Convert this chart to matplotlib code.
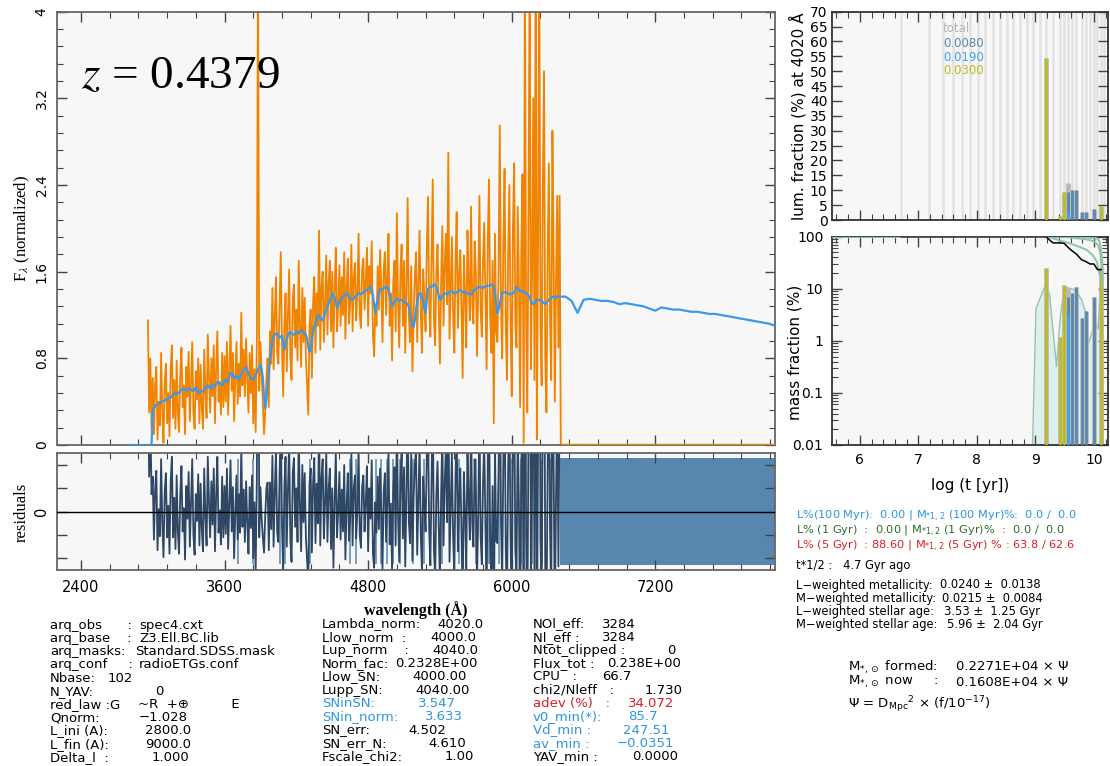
import numpy as np
import matplotlib.pyplot as plt
from matplotlib.ticker import MultipleLocator, FixedLocator, FixedFormatter, FuncFormatter, LogLocator, NullFormatter

W, H = 1110, 766

# ---------------------------------------------------------------
# spectral fit: synthetic (model) and observed spectrum, 10 A steps
# ---------------------------------------------------------------
lam_step = 10
model_lam0 = 2800
model_flux = [
    0, 0, 0, 0, 0, 0, 0, 0, 0, 0, 0, 0, 0, 0, 0, 0, 0, 0, 0, 0,                            # 2800
    0.32, 0.34, 0.36, 0.37, 0.38, 0.38, 0.39, 0.40, 0.40, 0.41,
    0.41, 0.42, 0.42, 0.43, 0.44, 0.44, 0.45, 0.47, 0.48, 0.47,                            # 3000
    0.47, 0.48, 0.48, 0.50, 0.51, 0.52, 0.52, 0.51, 0.50, 0.51,
    0.52, 0.52, 0.51, 0.50, 0.50, 0.52, 0.53, 0.50, 0.48, 0.49,                            # 3200
    0.50, 0.50, 0.49, 0.51, 0.53, 0.54, 0.55, 0.54, 0.52, 0.54,
    0.56, 0.55, 0.54, 0.56, 0.58, 0.58, 0.57, 0.56, 0.55, 0.57,                            # 3400
    0.60, 0.59, 0.58, 0.60, 0.63, 0.66, 0.67, 0.64, 0.62, 0.63,
    0.64, 0.62, 0.60, 0.63, 0.66, 0.68, 0.69, 0.71, 0.72, 0.69,                            # 3600
    0.66, 0.64, 0.62, 0.61, 0.60, 0.62, 0.64, 0.67, 0.70, 0.72,
    0.74, 0.70, 0.62, 0.45, 0.34, 0.42, 0.55, 0.68, 0.80, 0.90,                            # 3800
    0.97, 1.00, 1.02, 1.03, 1.03, 1.01, 0.99, 1.00, 1.01, 0.95,
    0.88, 0.93, 0.98, 1.01, 1.04, 1.04, 1.03, 1.02, 1.02, 1.03,                            # 4000
    1.05, 1.04, 1.03, 1.05, 1.06, 1.05, 1.04, 1.03, 1.02, 0.97,
    0.90, 0.86, 0.88, 0.97, 1.05, 1.09, 1.12, 1.16, 1.20, 1.19,                            # 4200
    1.17, 1.16, 1.15, 1.18, 1.22, 1.25, 1.28, 1.31, 1.33, 1.37,
    1.40, 1.38, 1.36, 1.31, 1.27, 1.29, 1.32, 1.34, 1.36, 1.37,                            # 4400
    1.38, 1.39, 1.40, 1.39, 1.37, 1.35, 1.34, 1.34, 1.35, 1.37,
    1.38, 1.39, 1.40, 1.40, 1.39, 1.40, 1.41, 1.42, 1.43, 1.43,                            # 4600
    1.44, 1.45, 1.46, 1.44, 1.38, 1.30, 1.22, 1.28, 1.35, 1.40,
    1.43, 1.44, 1.44, 1.45, 1.45, 1.46, 1.46, 1.43, 1.38, 1.33,                            # 4800
    1.28, 1.30, 1.32, 1.34, 1.35, 1.34, 1.33, 1.34, 1.34, 1.33,
    1.32, 1.32, 1.31, 1.30, 1.28, 1.22, 1.15, 1.10, 1.09, 1.15,                            # 5000
    1.25, 1.32, 1.38, 1.40, 1.40, 1.36, 1.32, 1.26, 1.22, 1.34,
    1.44, 1.45, 1.46, 1.46, 1.47, 1.48, 1.48, 1.46, 1.42, 1.38,                            # 5200
    1.34, 1.35, 1.37, 1.39, 1.40, 1.40, 1.39, 1.40, 1.41, 1.42,
    1.42, 1.41, 1.40, 1.40, 1.41, 1.42, 1.43, 1.43, 1.42, 1.41,                            # 5400
    1.41, 1.41, 1.40, 1.40, 1.40, 1.39, 1.39, 1.40, 1.42, 1.43,
    1.44, 1.45, 1.45, 1.46, 1.46, 1.45, 1.45, 1.46, 1.46, 1.47,                            # 5600
    1.47, 1.47, 1.48, 1.48, 1.48, 1.46, 1.40, 1.30, 1.22, 1.25,
    1.30, 1.36, 1.40, 1.41, 1.41, 1.41, 1.40, 1.40, 1.39, 1.39,                            # 5800
    1.40, 1.40, 1.41, 1.43, 1.46, 1.45, 1.43, 1.42, 1.42, 1.42,
    1.41, 1.41, 1.40, 1.39, 1.38, 1.36, 1.33, 1.31, 1.30, 1.31,                            # 6000
    1.33, 1.34, 1.34, 1.34, 1.33, 1.33, 1.32, 1.31, 1.30, 1.31,
    1.33, 1.34, 1.35, 1.36, 1.37, 1.37, 1.36, 1.36, 1.37, 1.37,                            # 6200
    1.37,                                                                                  # 6400
]
tail_lam0, tail_step = 6450, 50
model_tail_flux = [
    1.37, 1.33, 1.22, 1.34, 1.35, 1.34, 1.33, 1.33, 1.32, 1.30,
    1.31, 1.30, 1.29, 1.28, 1.26, 1.24, 1.27, 1.26, 1.25, 1.25,
    1.24, 1.23, 1.23, 1.22, 1.21, 1.21, 1.20, 1.19, 1.18, 1.17,
    1.16, 1.15, 1.14, 1.13, 1.12, 1.10,
]

obs_lam0 = 2960
obs_flux = [
    1.15, 0.30, 0.80, 0.15,                                                                # 2960
    0.62, 0.10, 0.55, 0.72, 0.05, 0.40, 0.18, 0.85, 0.30, 0.02,
    0.58, 0.75, 0.20, 0.48, 0.08, 0.70, 0.92, 0.25, 0.60, 0.15,                            # 3000
    0.78, 0.30, 0.12, 0.65, 0.90, 0.35, 0.55, 0.10, 0.72, 0.45,
    0.86, 0.22, 0.60, 0.95, 0.30, 0.15, 0.68, 0.42, 0.80, 0.20,                            # 3200
    0.74, 0.35, 0.15, 0.88, 0.50, 0.25, 1.02, 0.62, 0.30, 0.80,
    0.45, 0.92, 0.20, 0.70, 1.05, 0.40, 0.58, 0.28, 0.85, 0.35,                            # 3400
    0.82, 0.40, 0.95, 0.28, 0.70, 1.10, 0.50, 0.85, 0.22, 0.62,
    0.95, 0.38, 0.75, 0.45, 1.22, 0.55, 0.88, 0.45, 0.98, 0.60,                            # 3600
    0.30, 0.85, 0.48, 0.92, 0.20, 0.70, 0.12, 0.95, 4.60, 0.50,
    0.95, 0.65, 0.40, 0.10, 0.30, 0.62, 0.80, 0.35, 1.05, 0.75,                            # 3800
    1.45, 0.70, 1.20, 1.55, 0.85, 0.75, 1.30, 1.78, 0.90, 0.45,
    1.10, 1.40, 0.68, 1.20, 1.62, 0.80, 0.60, 1.35, 1.48, 0.90,                            # 4000
    1.25, 0.78, 1.70, 1.10, 0.72, 1.45, 0.95, 1.36, 0.80, 0.55,
    0.28, 1.10, 1.25, 0.62, 1.30, 1.55, 0.85, 1.40, 1.10, 1.98,                            # 4200
    0.88, 1.45, 1.60, 0.95, 1.30, 1.75, 1.02, 1.50, 1.70, 1.05,
    1.60, 0.90, 1.45, 1.82, 1.05, 1.30, 1.66, 1.10, 1.55, 1.20,                            # 4400
    1.78, 0.98, 1.45, 1.72, 1.12, 1.30, 1.85, 1.05, 1.55, 1.68,
    1.15, 1.40, 1.95, 1.20, 1.08, 1.62, 1.72, 1.25, 1.50, 1.82,                            # 4600
    1.10, 1.65, 1.40, 1.88, 1.02, 0.82, 1.30, 1.10, 1.65, 1.25,
    1.80, 1.45, 0.95, 1.62, 1.78, 1.20, 1.55, 1.95, 1.10, 1.40,                            # 4800
    0.78, 1.50, 1.70, 1.05, 2.14, 1.30, 0.90, 1.60, 1.85, 1.10,
    1.70, 0.85, 1.45, 2.28, 1.20, 0.95, 1.65, 0.68, 1.20, 1.55,                            # 5000
    1.78, 0.95, 1.50, 1.98, 1.20, 0.85, 1.62, 1.35, 1.05, 1.80,
    2.29, 1.30, 1.00, 1.72, 2.45, 1.15, 0.92, 1.60, 1.85, 1.25,                            # 5200
    0.75, 1.50, 2.02, 1.10, 1.65, 1.95, 1.30, 2.70, 0.98, 1.45,
    1.92, 1.20, 0.85, 1.70, 2.15, 1.08, 1.55, 1.80, 1.25, 0.62,                            # 5400
    1.75, 1.40, 0.90, 1.98, 1.50, 1.15, 2.20, 1.30, 1.12, 1.88,
    1.60, 0.82, 1.45, 2.30, 1.25, 1.00, 1.70, 2.05, 1.35, 0.70,                            # 5600
    1.90, 2.45, 1.20, 0.85, 1.70, 0.20, 1.95, 1.05, 0.95, 1.60,
    2.95, 1.30, 0.80, 1.85, 2.55, 1.10, 0.60, 1.75, 2.40, 1.20,                            # 5800
    0.45, 2.00, 2.60, 1.10, 0.90, 2.20, 1.50, 0.35, 1.80, 2.50,
    0.02, 4.50, 1.20, 0.30, 2.10, 4.50, 0.70, 1.60, 3.20, 0.60,                            # 6000
    4.50, 0.05, 1.90, 4.50, 1.10, 0.55, 2.40, 3.45, 0.80, 0.30,
    1.70, 2.60, 1.20, 0.60, 2.90, 1.80, 0.40, 1.50, 2.30, 0.90,                            # 6200
    2.30,                                                                                  # 6400
]
nodata_lam = [6410, 8200]          # no observed flux beyond the red end
clipped_lam = [6405, 8200]         # band excluded from the fit
clipped_res = 0.46
masked_lam = [3715, 3840, 4065, 4105, 4315, 4650, 4700, 4865, 4905, 4960,
              5010, 5065, 5175, 5270, 5420, 5560, 5700, 5810, 5890, 6000,
              6080, 6170, 6250, 6330]
redshift = 0.4379

# ---------------------------------------------------------------
# population vector
# ---------------------------------------------------------------
base_logt = [6.71, 7.18, 7.42, 7.59, 7.74, 7.88, 8.02, 8.14, 8.27, 8.39,
             8.51, 8.62, 8.74, 8.85, 8.96, 9.08, 9.18, 9.30, 9.42, 9.49,
             9.55, 9.62, 9.70, 9.79, 9.86, 9.93, 10.00, 10.06, 10.12, 10.18]
pop_logt = [9.18, 9.42, 9.49, 9.55, 9.55, 9.62, 9.70, 9.79, 9.86, 10.00, 10.12]
pop_Z = [0.03, 0.03, 0.03, 0.008, 0.019, 0.008, 0.008, 0.008, 0.008, 0.008, 0.03]
pop_light = [54.6, 1.4, 9.4, 9.4, 3.1, 10.0, 10.1, 2.6, 2.8, 3.8, 4.8]
pop_mass = [25.4, 1.2, 11.8, 7.0, 3.2, 8.2, 11.0, 2.7, 3.7, 7.0, 24.7]
Z_values = [0.008, 0.019, 0.03]
Z_labels = ["0.0080", "0.0190", "0.0300"]
Z_colors = ["#5a87ae", "#42a0ee", "#bdbd1e"]

# smoothed mass distribution
smooth_logt = [8.95, 9.01, 9.10, 9.16, 9.24, 9.36, 9.42, 9.48, 9.55, 9.62,
               9.70, 9.79, 9.86, 9.91, 10.02, 10.07, 10.12, 10.16]
smooth_mass = [0.01, 4.2, 7.5, 11.0, 8.1, 0.32, 2.5, 8.8, 10.5, 10.0,
               9.0, 6.1, 3.5, 0.9, 2.3, 1.7, 21.0, 0.01]

# cumulative mass curves for the individual metallicities
cumZ_logt = [
    [5.52, 9.18, 9.27, 9.42, 9.59, 9.75, 9.88, 9.98, 10.05, 10.10],
    [5.52, 9.50, 9.59, 9.80, 9.93, 10.02, 10.07, 10.11, 10.13, 10.15],
    [5.52, 9.70, 9.76, 9.95, 10.05, 10.09, 10.11, 10.13, 10.15],
]
cumZ_mass = [
    [100, 100, 95.7, 84.0, 74.5, 64.0, 55.5, 44.0, 33.1, 18.4],
    [100, 100, 95.7, 91.0, 86.3, 79.0, 69.2, 48.0, 24.6, 10.2],
    [100, 100, 99.0, 95.0, 92.9, 84.0, 69.2, 45.0, 24.6],
]

# ---------------------------------------------------------------
# text panels
# ---------------------------------------------------------------
info_left = [
    ("arq_obs      :", "spec4.cxt", 139), ("arq_base    :", "Z3.Ell.BC.lib", 139),
    ("arq_masks:", "Standard.SDSS.mask", 135), ("arq_conf     :", "radioETGs.conf", 139),
    ("Nbase:", "102", 108), ("N_YAV:", "0", 155),
    ("red_law :G", "~R  +\u2295          E", 138), ("Qnorm:", "\u22121.028", 139),
    ("L_ini (A):", "2800.0", 145), ("L_fin (A):", "9000.0", 145),
    ("Delta_l  :", "1.000", 152),
]
info_mid = [
    ("Lambda_norm:", "4020.0", 437), ("Llow_norm  :", "4000.0", 430),
    ("Lup_norm    :", "4040.0", 432), ("Norm_fac:", "0.2328E+00", 395),
    ("Llow_SN:", "4000.00", 412), ("Lupp_SN:", "4040.00", 415),
    ("SNinSN:", "3.547", 418), ("SNin_norm:", "3.633", 425),
    ("SN_err:", "4.502", 408), ("SN_err_N:", "4.610", 428),
    ("Fscale_chi2:", "1.00", 445),
]
mid_colors = ["k"] * 6 + ["#2f96dc"] * 2 + ["k"] * 3
info_fit = [
    ("NOl_eff:", "3284", 602), ("Nl_eff :", "3284", 602),
    ("Ntot_clipped :", "0", 667), ("Flux_tot :", "0.238E+00", 607),
    ("CPU   :", "66.7", 602), ("chi2/Nleff   :", "1.730", 645),
    ("adev (%)   :", "34.072", 628), ("v0_min(*):", "85.7", 628),
    ("Vd_min :", "247.51", 623), ("av_min :", "\u22120.0351", 617),
    ("YAV_min :", "0.0000", 632),
]
fit_colors = ["k"] * 6 + ["#d8202a"] + ["#2f96dc"] * 3 + ["k"]

frac_lines = [
    r"L%(100 Myr):  0.00 | M$_{*1,2}$ (100 Myr)%:  0.0 /  0.0",
    r"L% (1 Gyr)  :  0.00 | M$_{*1,2}$ (1 Gyr)%  :  0.0 /  0.0",
    r"L% (5 Gyr)  : 88.60 | M$_{*1,2}$ (5 Gyr) % : 63.8 / 62.6",
]
frac_colors = ["#2f96dc", "#2d6a2d", "#d8202a"]
t_half = "t*1/2 :   4.7 Gyr ago"
avg_lines = [
    ("L\u2212weighted metallicity:", "0.0240 \u00b1  0.0138", 940),
    ("M\u2212weighted metallicity:", "0.0215 \u00b1  0.0084", 942),
    ("L\u2212weighted stellar age:", "3.53 \u00b1  1.25 Gyr", 944),
    ("M\u2212weighted stellar age:", "5.96 \u00b1  2.04 Gyr", 947),
]
mass_lines = [
    (r"M$_{*,\odot}$ formed:", "0.2271E+04 \u00d7 \u03a8"),
    (r"M$_{*,\odot}$ now     :", "0.1608E+04 \u00d7 \u03a8"),
]
psi_line = r"$\Psi$ = D$_{\rm Mpc}$$^{2}$ $\times$ (f/10$^{-17}$)"

ORANGE = "#f08300"
BLUE = "#3d98e8"
DARK_RES = "#2d4764"
LIGHT_RES = "#5787af"
PANEL_BG = "#f7f7f7"
SERIF = "Liberation Serif"

plt.rcParams["font.size"] = 10


def px_ax(l, t, r, b):
    """axes rectangle from pixel edges"""
    return [l / W, 1 - b / H, (r - l) / W, (b - t) / H]


def put(x, y, s, **kw):
    kw.setdefault("va", "center")
    return fig.text(x / W, 1 - y / H, s, **kw)


def style_axes(ax, spine="#666666"):
    ax.set_facecolor(PANEL_BG)
    for sp in ax.spines.values():
        sp.set_color(spine)
        sp.set_linewidth(1.3)
    ax.tick_params(which="both", direction="in", top=True, right=True, color="#444444")
    ax.tick_params(which="major", length=7, width=1.0)
    ax.tick_params(which="minor", length=4, width=0.8)


fig = plt.figure(figsize=(W / 100, H / 100), dpi=100)

# ---------------- spectrum ----------------
model_lam = model_lam0 + lam_step * np.arange(len(model_flux))
tail_lam = tail_lam0 + tail_step * np.arange(len(model_tail_flux))
full_lam = np.concatenate([model_lam, tail_lam])
full_model = np.concatenate([model_flux, model_tail_flux])
obs_lam = obs_lam0 + lam_step * np.arange(len(obs_flux))
obs = np.array(obs_flux)
i0 = (obs_lam0 - model_lam0) // lam_step
resid = obs - np.array(model_flux)[i0:i0 + len(obs)]

ax = fig.add_axes(px_ax(57, 11.7, 775, 445))
style_axes(ax)
ax.plot(np.append(obs_lam, nodata_lam[0]), np.append(obs, 0), color=ORANGE, lw=1.3, zorder=2)
ax.hlines(0, nodata_lam[0], nodata_lam[1], color=ORANGE, lw=2.5, zorder=3)
ax.plot(full_lam, full_model, color=BLUE, lw=1.6, zorder=4)
ax.set_xlim(2200, 8200)
ax.set_ylim(0, 4)
ax.xaxis.set_major_locator(MultipleLocator(1200))
ax.xaxis.set_minor_locator(MultipleLocator(240))
ax.yaxis.set_major_locator(MultipleLocator(0.8))
ax.yaxis.set_minor_locator(MultipleLocator(0.16))
ax.yaxis.set_major_formatter(FuncFormatter(lambda v, p: f"{v:g}"))
ax.tick_params(axis="x", labelbottom=False)
ax.tick_params(axis="y", labelrotation=90, labelsize=10, pad=6)
for lab in ax.get_yticklabels():
    lab.set_va("center")
ax.text(2400, 3.30, rf"$z$ = {redshift}", fontsize=34, family=SERIF,
        math_fontfamily="stix", va="baseline", ha="left")

# ---------------- residuals ----------------
axr = fig.add_axes(px_ax(57, 453.3, 775, 570))
style_axes(axr)
axr.vlines(masked_lam, -0.45, 0.45, color=LIGHT_RES, lw=1.1, zorder=1)
axr.fill_between(clipped_lam, -clipped_res, clipped_res, color=LIGHT_RES, lw=0, zorder=1)
axr.plot(obs_lam, resid, color=DARK_RES, lw=1.3, zorder=2)
axr.axhline(0, color="k", lw=1.0, zorder=3)
axr.set_xlim(2200, 8200)
axr.set_ylim(-0.5, 0.5)
axr.xaxis.set_major_locator(MultipleLocator(1200))
axr.xaxis.set_minor_locator(MultipleLocator(240))
axr.yaxis.set_major_locator(FixedLocator([-0.4, -0.2, 0, 0.2, 0.4]))
axr.yaxis.set_major_formatter(FixedFormatter(["", "", "0", "", ""]))
axr.tick_params(axis="x", labelsize=10.5, pad=7)
axr.tick_params(axis="y", labelrotation=90, labelsize=10.5, pad=6)
for lab in axr.get_yticklabels():
    lab.set_va("center")

put(22, 228, r"F$_\lambda$ (normalized)", rotation=90, ha="center", family=SERIF,
    fontsize=12, math_fontfamily="stix")
put(22, 512, "residuals", rotation=90, ha="center", family=SERIF, fontsize=12)
put(416, 610, "wavelength (\u00c5)", ha="center", family=SERIF, fontsize=11.5,
    fontweight="bold")

# ---------------- light fractions ----------------
ages_u = sorted(set(pop_logt))
tot_light = [sum(l for t, l in zip(pop_logt, pop_light) if t == a) for a in ages_u]
tot_mass = [sum(m for t, m in zip(pop_logt, pop_mass) if t == a) for a in ages_u]
zcol = dict(zip(Z_values, Z_colors))

axl = fig.add_axes(px_ax(831.7, 11.7, 1108, 220))
style_axes(axl, spine="#333333")
axl.vlines(base_logt, 0, 70, color="#e2e2e2", lw=1.8, zorder=0)
axl.vlines(ages_u, 0, tot_light, color="#b8b8b8", lw=3.4, zorder=2)
for t, z, l in zip(pop_logt, pop_Z, pop_light):
    axl.vlines(t, 0, l, color=zcol[z], lw=2.0, zorder=3)
axl.set_xlim(5.52, 10.24)
axl.set_ylim(0, 70)
axl.xaxis.set_major_locator(MultipleLocator(1))
axl.xaxis.set_minor_locator(MultipleLocator(0.2))
axl.yaxis.set_major_locator(MultipleLocator(5))
axl.tick_params(axis="x", labelbottom=False)
axl.tick_params(axis="y", labelsize=10, pad=3)
axl.text(0.403, 0.917, "total", transform=axl.transAxes, color="#b4b4b4", fontsize=8.5, va="center")
for k, (lab, c) in enumerate(zip(Z_labels, Z_colors)):
    axl.text(0.403, 0.845 - 0.063 * k, lab, transform=axl.transAxes, color=c,
             fontsize=8.5, va="center")
put(798, 116, "lum. fraction (%) at 4020 \u00c5", rotation=90, ha="center", fontsize=11)

# ---------------- mass fractions ----------------
axm = fig.add_axes(px_ax(831.7, 236.7, 1108, 445))
style_axes(axm, spine="#333333")
axm.set_yscale("log")
axm.fill_between(smooth_logt, 1e-3, smooth_mass, color="#dfeeee", lw=0, zorder=1)
axm.plot(smooth_logt, smooth_mass, color="#98c2b0", lw=1.0, zorder=1)
axm.vlines(ages_u, 1e-3, tot_mass, color="#b8b8b8", lw=3.4, zorder=2)
for t, z, m in zip(pop_logt, pop_Z, pop_mass):
    axm.vlines(t, 1e-3, m, color=zcol[z], lw=2.0, zorder=3)

m_all = sum(pop_mass)
cum_t = [t for t in base_logt if t <= max(pop_logt)]
cum_v = [100 * sum(m for tt, m in zip(pop_logt, pop_mass) if tt >= t) / m_all for t in cum_t]
for ct, cm in zip(cumZ_logt, cumZ_mass):
    axm.plot(ct, cm, color="#8fc4a8", lw=1.4, zorder=4)
axm.plot(cum_t, cum_v, color="k", lw=1.1, zorder=5)

axm.set_xlim(5.52, 10.24)
axm.set_ylim(0.01, 100)
axm.xaxis.set_major_locator(MultipleLocator(1))
axm.xaxis.set_minor_locator(MultipleLocator(0.2))
axm.yaxis.set_major_locator(FixedLocator([0.01, 0.1, 1, 10, 100]))
axm.yaxis.set_major_formatter(FixedFormatter(["0.01", "0.1", "1", "10", "100"]))
axm.yaxis.set_minor_locator(LogLocator(base=10, subs=np.arange(2, 10)))
axm.yaxis.set_minor_formatter(NullFormatter())
axm.xaxis.set_major_formatter(FuncFormatter(lambda v, p: f"{v:g}"))
axm.tick_params(axis="both", labelsize=10, pad=6)
put(795, 352, "mass fraction (%)", rotation=90, ha="center", fontsize=11)
put(970, 486, "log (t [yr])", ha="center", fontsize=11)

# ---------------- text panels ----------------
row = 13.25
fs = 9.5
for i, (lab, val, vx) in enumerate(info_left):
    put(50, 625 + i * row, lab, fontsize=fs)
    put(vx, 625 + i * row, val, fontsize=fs)
for i, ((lab, val, vx), c) in enumerate(zip(info_mid, mid_colors)):
    put(322, 624 + i * row, lab, fontsize=fs, color=c)
    put(vx, 624 + i * row, val, fontsize=fs, color=c)
for i, ((lab, val, vx), c) in enumerate(zip(info_fit, fit_colors)):
    put(533, 624 + i * row, lab, fontsize=fs, color=c)
    put(vx, 624 + i * row, val, fontsize=fs, color=c)

for i, (s, c) in enumerate(zip(frac_lines, frac_colors)):
    put(796, 516 + i * 14.8, s, fontsize=8.2, color=c)
put(796, 566, t_half, fontsize=8.3)
for i, (lab, val, vx) in enumerate(avg_lines):
    put(796, 585 + i * 13.3, lab, fontsize=8.3)
    put(vx, 585 + i * 13.3, val, fontsize=8.3)
for i, (lab, val) in enumerate(mass_lines):
    put(848, 667 + i * 15, lab, fontsize=9.5)
    put(956, 667 + i * 15, val, fontsize=9.5)
put(848, 705, psi_line, fontsize=9.5)

fig.savefig("out.png", dpi=100)
